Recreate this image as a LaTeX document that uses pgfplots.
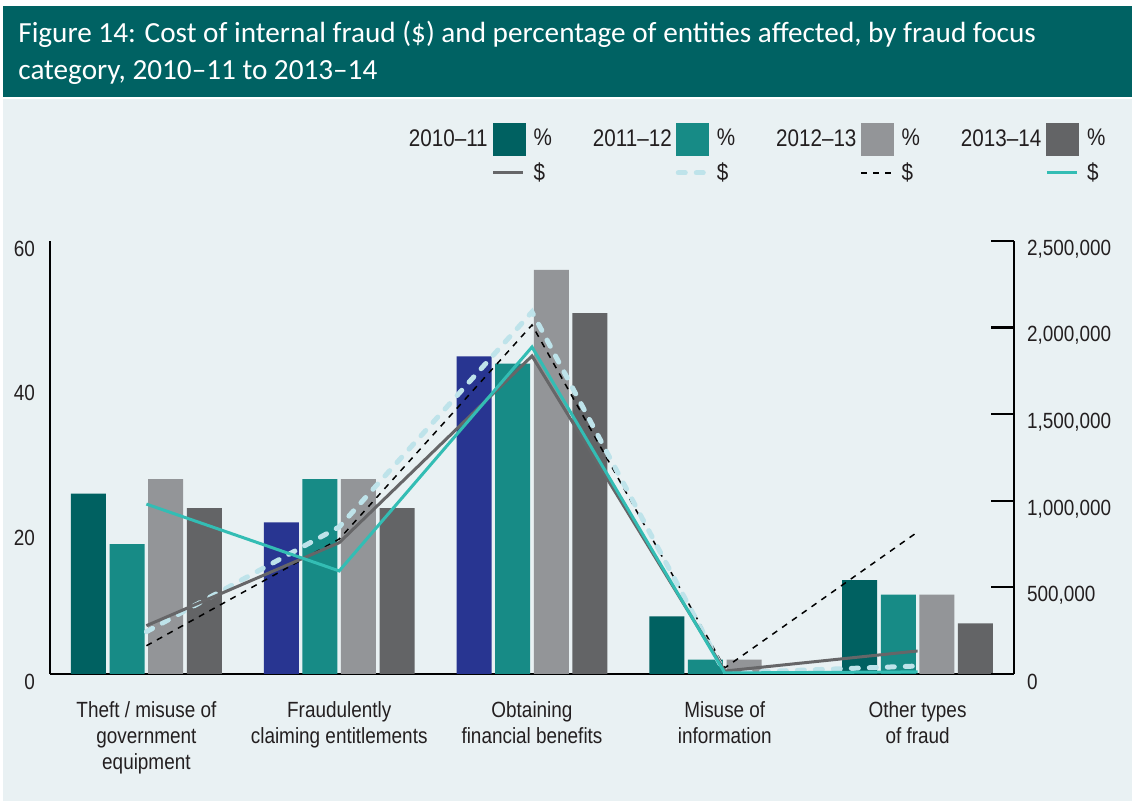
\documentclass[border=0pt]{standalone}
\usepackage{fontspec}
\setmainfont{Liberation Sans}
\newfontfamily\cond[FakeStretch=0.86]{Liberation Sans}
\newfontfamily\titlefont{Carlito}
\usepackage{pgfplots}
\pgfplotsset{compat=1.18}

\definecolor{titlebg}{RGB}{0,98,99}
\definecolor{panelbg}{RGB}{233,241,243}
\definecolor{yrA}{RGB}{0,97,97}
\definecolor{yrB}{RGB}{23,139,134}
\definecolor{yrC}{RGB}{147,149,152}
\definecolor{yrD}{RGB}{99,100,102}
\definecolor{navy}{RGB}{40,53,145}
\definecolor{lnA}{RGB}{102,102,104}
\definecolor{lnB}{RGB}{190,227,234}
\definecolor{lnD}{RGB}{51,189,180}
\definecolor{txt}{RGB}{35,31,32}

\tikzset{
  dolA/.style={lnA, line width=1.5pt},
  dolB/.style={lnB, line width=2.5pt, line cap=round, dash pattern=on 3.5pt off 5.5pt},
  dolC/.style={black, line width=0.75pt, dash pattern=on 3pt off 3pt},
  dolD/.style={lnD, line width=1.5pt},
}
\newcommand{\lbl}{\cond\fontsize{11}{13}\selectfont}
\newcommand{\leg}{\cond\fontsize{12}{14}\selectfont}
\newcommand{\gap}{\rule{0pt}{0pt}\hspace*{16.5pt}\rule{0pt}{0pt}}
\newcommand{\pre}{\rule{0pt}{0pt}\hspace*{2pt}}

\begin{document}
\begin{tikzpicture}
\fill[white] (0pt,0pt) rectangle (566pt,400.5pt);
\fill[titlebg] (1.5pt,352pt) rectangle (566pt,397.5pt);
\fill[panelbg] (1.5pt,0pt) rectangle (566pt,351pt);
\node[anchor=base west, inner sep=0pt, text=white, font=\titlefont\fontsize{14.6}{18.5}\selectfont]
  at (9pt,379pt) {Figure 14: Cost of internal fraud (\$) and percentage of entities affected, by fraud focus};
\node[anchor=base west, inner sep=0pt, text=white, font=\titlefont\fontsize{14.6}{18.5}\selectfont]
  at (9pt,360.5pt) {category, 2010–11 to 2013–14};

% bars: percentage of entities (left axis)
\begin{axis}[
  name=ax1, at={(25pt,63.5pt)}, anchor=south west,
  scale only axis, width=482pt, height=216.5pt,
  xmin=-0.5, xmax=4.5, ymin=0, ymax=60,
  axis x line*=bottom, axis y line*=left,
  axis line style={black, line width=1.1pt, -},
  ytick={0,20,40,60}, major tick length=0pt,
  xtick={0,1,2,3,4},
  xticklabels={{Theft / misuse of\\government\\equipment},
               {Fraudulently\\claiming entitlements},
               {Obtaining\\financial benefits},
               {Misuse of\\information},
               {Other types\\of fraud}},
  xticklabel style={align=center, font=\lbl, text=txt, yshift=-10.5pt},
  yticklabel style={font=\lbl, text=txt, xshift=-4pt, yshift=-4pt},
  /pgf/number format/assume math mode=true,
  legend columns=8, legend cell align=left,
  legend style={at={(1.0996,1.274)}, anchor=north east, draw=none, fill=none,
    inner sep=0pt, font=\leg, text=txt, column sep=0pt, row sep=1.5pt},
]
\addplot[ybar, bar width=17.5pt, bar shift=-28.95pt, fill=yrA, draw=none, forget plot]
  coordinates {(0,25) (3,8) (4,13)};
\addplot[ybar, bar width=17.5pt, bar shift=-28.95pt, fill=navy, draw=none, forget plot]
  coordinates {(1,21) (2,44)};
\addplot[ybar, bar width=17.5pt, bar shift=-9.65pt, fill=yrB, draw=none, forget plot]
  coordinates {(0,18) (1,27) (2,43) (3,2) (4,11)};
\addplot[ybar, bar width=17.5pt, bar shift=9.65pt, fill=yrC, draw=none, forget plot]
  coordinates {(0,27) (1,27) (2,56) (3,2) (4,11)};
\addplot[ybar, bar width=17.5pt, bar shift=28.95pt, fill=yrD, draw=none, forget plot]
  coordinates {(0,23) (1,23) (2,50) (3,0) (4,7)};

% legend, row 1: years and % boxes
\addlegendimage{empty legend}\addlegendentry{2010–11}
\addlegendimage{legend image code/.code={\fill[yrA] (0pt,-8pt) rectangle (16pt,8pt);}}
\addlegendentry{\pre\%\gap}
\addlegendimage{empty legend}\addlegendentry{2011–12}
\addlegendimage{legend image code/.code={\fill[yrB] (0pt,-8pt) rectangle (16pt,8pt);}}
\addlegendentry{\pre\%\gap}
\addlegendimage{empty legend}\addlegendentry{2012–13}
\addlegendimage{legend image code/.code={\fill[yrC] (0pt,-8pt) rectangle (16pt,8pt);}}
\addlegendentry{\pre\%\gap}
\addlegendimage{empty legend}\addlegendentry{2013–14}
\addlegendimage{legend image code/.code={\fill[yrD] (0pt,-8pt) rectangle (16pt,8pt);}}
\addlegendentry{\pre\%}
% legend, row 2: $ lines
\addlegendimage{empty legend}\addlegendentry{}
\addlegendimage{legend image code/.code={\draw[dolA] (0pt,0pt) -- (15pt,0pt);}}
\addlegendentry{\pre\$}
\addlegendimage{empty legend}\addlegendentry{}
\addlegendimage{legend image code/.code={\draw[dolB] (1pt,0pt) -- (15pt,0pt);}}
\addlegendentry{\pre\$}
\addlegendimage{empty legend}\addlegendentry{}
\addlegendimage{legend image code/.code={\draw[dolC] (0pt,0pt) -- (15pt,0pt);}}
\addlegendentry{\pre\$}
\addlegendimage{empty legend}\addlegendentry{}
\addlegendimage{legend image code/.code={\draw[dolD] (0pt,0pt) -- (15pt,0pt);}}
\addlegendentry{\pre\$}
\end{axis}

% lines: cost in dollars (right axis)
\begin{axis}[
  at={(ax1.south west)}, anchor=south west,
  scale only axis, width=482pt, height=216.5pt,
  xmin=-0.5, xmax=4.5, ymin=0, ymax=2500000,
  axis x line=none, axis y line*=right,
  axis line style={black, line width=1.1pt, -},
  ytick={0,500000,1000000,1500000,2000000,2500000},
  tick align=inside, major tick length=11.5pt,
  tick style={black, line width=1.1pt},
  scaled y ticks=false,
  yticklabel style={font=\lbl, text=txt, xshift=3pt, yshift=-4pt,
    /pgf/number format/.cd, fixed, 1000 sep={,}, assume math mode=true},
]
\addplot[dolC] coordinates {(0,163000) (1,779000) (2,2015000) (3,35000) (4,820000)};
\addplot[dolB] coordinates {(0,244000) (1,849000) (2,2090000) (3,6000) (4,46000)};
\addplot[dolA] coordinates {(0,279000) (1,758000) (2,1836000) (3,17000) (4,133000)};
\addplot[dolD] coordinates {(0,981000) (1,595000) (2,1888000) (3,6000) (4,12000)};
\end{axis}
\end{tikzpicture}
\end{document}
